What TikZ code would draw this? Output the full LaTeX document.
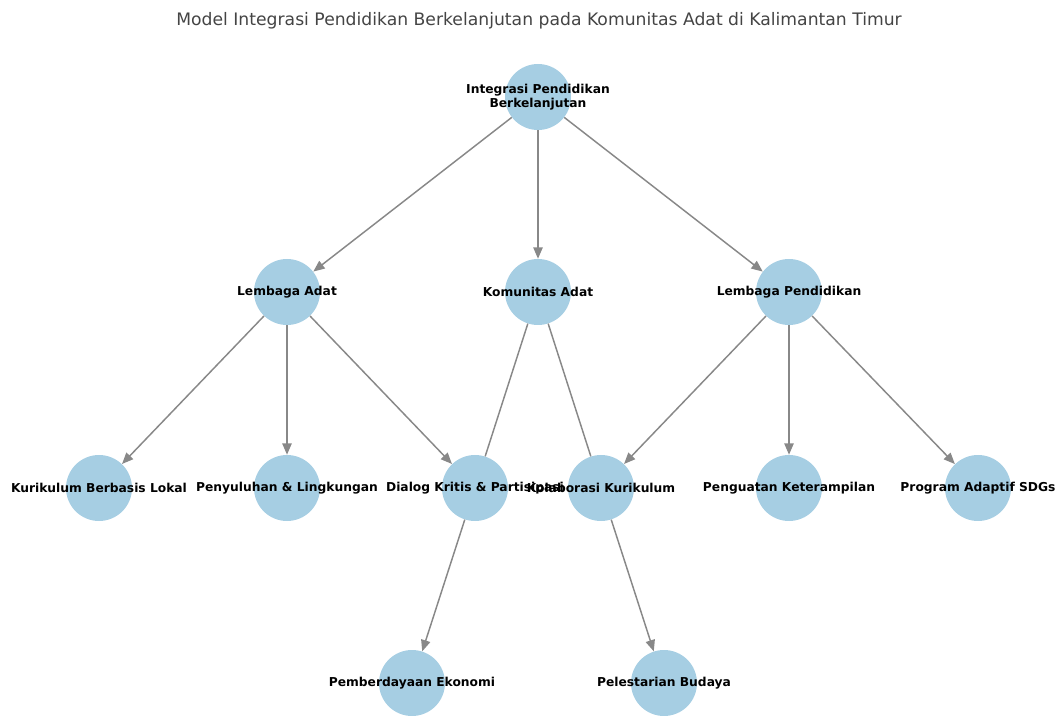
\documentclass[tikz,border=0pt]{standalone}
\usepackage{fontspec}
\setmainfont{DejaVu Sans}
\usetikzlibrary{arrows.meta}
\definecolor{nodeblue}{HTML}{A6CEE3}
\definecolor{edgegray}{HTML}{888888}
\definecolor{titlegray}{HTML}{444444}
\tikzset{
  topic/.style={circle, fill=nodeblue, minimum size=49.5pt, inner sep=0pt},
  topiclabel/.style={font=\bfseries\fontsize{9.2}{10.5}\selectfont, align=center, inner sep=0pt},
  link/.style={draw=edgegray, line width=1.1pt},
  arrowlink/.style={link, -{Triangle[length=8.5pt,width=7pt]}}
}
\begin{document}
\begin{tikzpicture}[x=0.75pt, y=-0.75pt]
  \useasboundingbox (0,0) rectangle (1057,716);
  \node[font=\fontsize{12.9}{15}\selectfont, text=titlegray] (title) at (539,21)
    {Model Integrasi Pendidikan Berkelanjutan pada Komunitas Adat di Kalimantan Timur};
  % circles
  \node[topic] (integrasi) at (538,97) {};
  \node[topic] (lembagaadat) at (287,292) {};
  \node[topic] (komunitas) at (538,292) {};
  \node[topic] (lembagapend) at (789,292) {};
  \node[topic] (kurikulum) at (99,488) {};
  \node[topic] (penyuluhan) at (287,488) {};
  \node[topic] (dialog) at (475,488) {};
  \node[topic] (kolaborasi) at (601,488) {};
  \node[topic] (penguatan) at (789,488) {};
  \node[topic] (program) at (978,488) {};
  \node[topic] (ekonomi) at (412,683) {};
  \node[topic] (budaya) at (664,683) {};
  % edges
  \begin{scope}[arrowlink]
    \draw (integrasi) to (lembagaadat);
    \draw (integrasi) to (komunitas);
    \draw (integrasi) to (lembagapend);
    \draw (lembagaadat) to (kurikulum);
    \draw (lembagaadat) to (penyuluhan);
    \draw (lembagaadat) to (dialog);
    \draw (lembagapend) to (kolaborasi);
    \draw (lembagapend) to (penguatan);
    \draw (lembagapend) to (program);
    \draw (dialog) to (ekonomi);
    \draw (kolaborasi) to (budaya);
  \end{scope}
  \begin{scope}[link]
    \draw (komunitas) to (dialog);
    \draw (komunitas) to (kolaborasi);
  \end{scope}
  % labels
  \node[topiclabel] (integrasi-t) at (integrasi) {Integrasi Pendidikan\\Berkelanjutan};
  \node[topiclabel] (lembagaadat-t) at (lembagaadat) {Lembaga Adat};
  \node[topiclabel] (komunitas-t) at (komunitas) {Komunitas Adat};
  \node[topiclabel] (lembagapend-t) at (lembagapend) {Lembaga Pendidikan};
  \node[topiclabel] (kurikulum-t) at (kurikulum) {Kurikulum Berbasis Lokal};
  \node[topiclabel] (penyuluhan-t) at (penyuluhan) {Penyuluhan \& Lingkungan};
  \node[topiclabel] (dialog-t) at (dialog) {Dialog Kritis \& Partisipasi};
  \node[topiclabel] (kolaborasi-t) at (kolaborasi) {Kolaborasi Kurikulum};
  \node[topiclabel] (penguatan-t) at (penguatan) {Penguatan Keterampilan};
  \node[topiclabel] (program-t) at (program) {Program Adaptif SDGs};
  \node[topiclabel] (ekonomi-t) at (ekonomi) {Pemberdayaan Ekonomi};
  \node[topiclabel] (budaya-t) at (budaya) {Pelestarian Budaya};
\end{tikzpicture}
\end{document}
